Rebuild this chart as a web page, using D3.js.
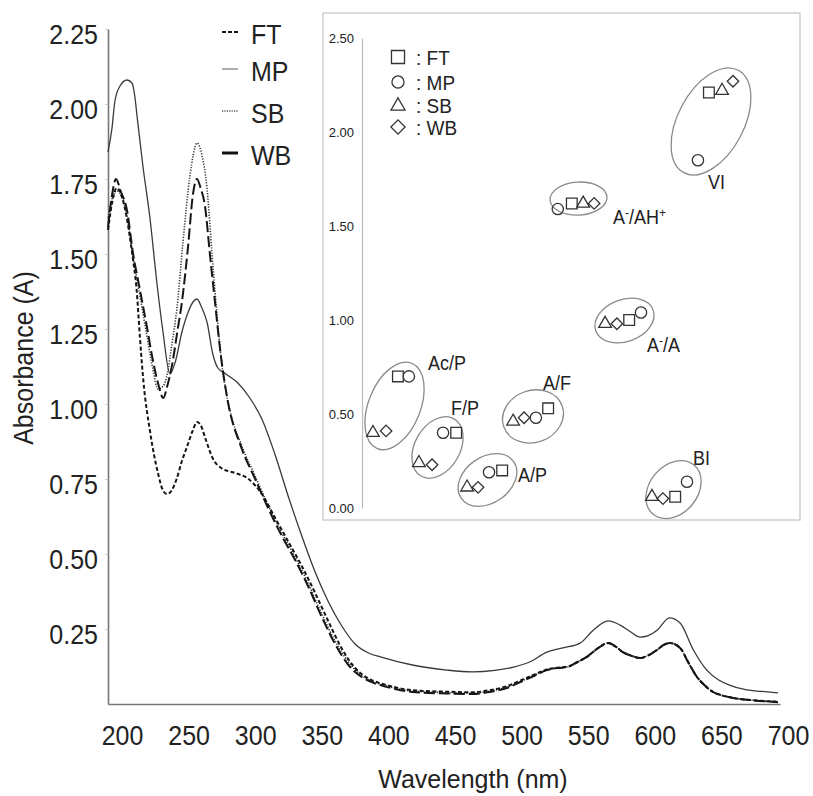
<!DOCTYPE html>
<html><head><meta charset="utf-8">
<script src="https://cdn.jsdelivr.net/npm/d3@7"></script>
<style>
body{margin:0;background:#fff}
svg{display:block}
text{font-family:"Liberation Sans",Arial,Helvetica,sans-serif;fill:#222}
</style>
</head><body>
<svg id="c" width="813" height="796"></svg>
<script>
// ---------- main spectrum data (wavelength nm, absorbance A) ----------
const seriesNames = ["FT", "MP", "SB", "WB"];

const ftData = [[189.5,1.58],[193,1.68],[196,1.72],[200,1.69],[204,1.61],[208,1.49],[211,1.38],[213.5,1.22],[216,1.08],[221,0.91],[227,0.77],[231,0.71],[234,0.70],[237,0.71],[241,0.75],[245,0.81],[249,0.86],[253,0.91],[256.3,0.94],[259,0.93],[263,0.88],[268,0.82],[275,0.785],[285,0.77],[295,0.75],[305,0.70],[315,0.62],[325,0.54],[335,0.46],[345,0.37],[355,0.275],[365,0.185],[375,0.12],[385,0.085],[394,0.069],[405,0.056],[418,0.046],[444,0.041],[463,0.039],[476,0.046],[490,0.061],[499,0.078],[510,0.099],[519,0.115],[527,0.121],[534,0.124],[542,0.14],[549,0.157],[557,0.185],[565,0.203],[571,0.19],[576,0.173],[583,0.16],[589,0.153],[595,0.162],[601.6,0.18],[607,0.198],[611.4,0.203],[619,0.187],[625,0.14],[631.7,0.09],[638,0.06],[643.7,0.04],[651,0.028],[659,0.02],[675,0.012],[692.5,0.008]];

const mpData = [[189.5,1.84],[192.5,1.92],[194.7,2.01],[198.5,2.06],[203.8,2.08],[207.5,2.07],[209.5,2.03],[211.3,1.96],[215.8,1.79],[221,1.62],[226.3,1.40],[230.8,1.24],[236,1.10],[240,1.14],[245,1.24],[250,1.31],[253.3,1.34],[256.3,1.35],[260,1.32],[264,1.27],[268,1.17],[272,1.12],[278,1.10],[287,1.07],[296,1.02],[305,0.95],[315,0.83],[325,0.69],[335,0.56],[345,0.44],[355,0.34],[365,0.26],[375,0.20],[385,0.17],[394,0.157],[418,0.13],[444,0.113],[463,0.107],[480,0.112],[494,0.123],[506,0.14],[519,0.173],[531,0.187],[544,0.203],[554,0.247],[565,0.277],[574,0.263],[582,0.24],[589,0.223],[595,0.228],[602,0.247],[611,0.287],[619,0.27],[629,0.18],[639,0.113],[648,0.08],[656,0.063],[669,0.047],[680,0.042],[692.5,0.037]];

const sbData = [[189.5,1.62],[193,1.69],[196,1.71],[200,1.69],[204,1.62],[208,1.50],[213.5,1.36],[219,1.22],[223,1.12],[227,1.05],[231,1.06],[234,1.10],[237.5,1.20],[241.3,1.32],[245.8,1.54],[251,1.76],[253.5,1.83],[256.3,1.87],[260,1.83],[263.8,1.72],[267.6,1.50],[271.3,1.30],[275,1.13],[280,1.00],[290,0.86],[300,0.76],[310,0.66],[320,0.57],[330,0.49],[340,0.40],[350,0.30],[360,0.21],[370,0.14],[380,0.095],[388,0.075],[394,0.066],[405,0.053],[418,0.043],[444,0.038],[463,0.036],[476,0.043],[490,0.058],[499,0.075],[510,0.097],[519,0.114],[527,0.12],[534,0.123],[542,0.14],[549,0.157],[557,0.185],[565,0.203],[571,0.19],[576,0.173],[583,0.16],[589,0.153],[595,0.162],[601.6,0.18],[607,0.198],[611.4,0.203],[619,0.187],[625,0.14],[631.7,0.09],[638,0.06],[643.7,0.04],[651,0.028],[659,0.02],[675,0.012],[692.5,0.007]];

const wbData = [[189.5,1.59],[192,1.68],[195.5,1.75],[199,1.71],[204,1.64],[208,1.51],[213.5,1.38],[219,1.25],[223,1.15],[227,1.07],[231,1.02],[234,1.06],[238,1.14],[241.5,1.24],[245,1.34],[249.5,1.52],[253.3,1.70],[256.3,1.75],[259,1.72],[262.3,1.66],[266,1.50],[269.8,1.34],[274,1.17],[279,1.02],[290,0.85],[300,0.75],[310,0.65],[320,0.56],[330,0.48],[340,0.39],[350,0.29],[360,0.20],[370,0.13],[380,0.09],[388,0.072],[394,0.063],[405,0.05],[418,0.04],[444,0.035],[463,0.033],[476,0.04],[490,0.055],[499,0.073],[510,0.095],[519,0.113],[527,0.12],[534,0.123],[542,0.14],[549,0.157],[557,0.185],[565,0.203],[571,0.19],[576,0.173],[583,0.16],[589,0.153],[595,0.162],[601.6,0.18],[607,0.198],[611.4,0.203],[619,0.187],[625,0.14],[631.7,0.09],[638,0.06],[643.7,0.04],[651,0.028],[659,0.02],[675,0.012],[692.5,0.006]];

const xTicks = [200,250,300,350,400,450,500,550,600,650,700];
const yTicks = [0.25,0.50,0.75,1.00,1.25,1.50,1.75,2.00,2.25];

// ---------- inset data ----------
const insetYTicks = [0.00,0.50,1.00,1.50,2.00,2.50];
const clusterNames = ["Ac/P","F/P","A/P","A/F","A-/A","BI","VI","A-/AH+"];
// [score, value] per cluster, in clusterNames order
const ftPts = [[8.2,0.70],[21.5,0.40],[32.0,0.20],[42.5,0.53],[61.0,1.00],[71.5,0.06],[79.2,2.21],[47.9,1.62]];
const mpPts = [[10.7,0.70],[18.5,0.40],[29.0,0.19],[39.7,0.48],[63.7,1.04],[74.2,0.14],[76.7,1.85],[44.7,1.59]];
const sbPts = [[2.5,0.40],[13.0,0.24],[24.0,0.11],[34.5,0.46],[55.5,0.98],[66.2,0.06],[82.2,2.22],[50.5,1.62]];
const wbPts = [[5.5,0.41],[16.0,0.23],[26.5,0.11],[37.0,0.48],[58.2,0.98],[68.7,0.05],[84.7,2.27],[53.0,1.62]];
const clusterCenters = [[7.42,0.543],[17.24,0.322],[28.65,0.149],[39.04,0.487],[59.93,0.997],[71.12,0.098],[79.68,2.056],[49.43,1.646]];
const clusterLabelPos = [[15.07,0.771],[20.32,0.532],[35.62,0.176],[41.32,0.665],[65.07,0.867],[75.57,0.266],[79.0,1.734],[57.31,1.548]];

// ---------- styles / layout ----------
const svg = d3.select("#c");
const STRETCH = 1.1; // glyphs in the reference are slightly taller than wide
const x = d3.scaleLinear().domain([189.5, 694]).range([108, 780]);
const y = d3.scaleLinear().domain([0, 2.25]).range([704, 29]);

const lineStyles = {
  FT: {stroke:"#151515", width:2.0, dash:"4,2.4"},
  MP: {stroke:"#3a3a3a", width:1.3, dash:null},
  SB: {stroke:"#333", width:1.6, dash:"1.2,1.5"},
  WB: {stroke:"#151515", width:2.0, dash:"11,4"}
};
const legendStyles = {
  FT: {stroke:"#151515", width:2.2, dash:"4,2"},
  MP: {stroke:"#999", width:1.6, dash:null},
  SB: {stroke:"#555", width:1.6, dash:"1.2,1.2"},
  WB: {stroke:"#111", width:3, dash:null}
};
const dataBy = {FT:ftData, MP:mpData, SB:sbData, WB:wbData};

function bigText(sel, tx, ty, str, anchor, extra, stretch){
  return sel.append("text")
    .attr("transform", `translate(${tx},${ty}) ${extra||""} scale(1,${stretch||STRETCH})`)
    .attr("dy","0.35em").attr("text-anchor",anchor||"start")
    .style("font-size","25px").text(str);
}

// axes
const gx = svg.append("g").attr("transform","translate(0,704)")
  .call(d3.axisBottom(x).tickValues(xTicks).tickSize(0).tickSizeOuter(0).tickFormat(d3.format("d")));
gx.select(".domain").attr("stroke","#777").attr("stroke-width",1.6);
gx.selectAll("text").attr("y",0).attr("dy","0.35em")
  .attr("transform",`translate(0,31) scale(1,${STRETCH})`)
  .style("font-size","25px").attr("fill","#222");

const gy = svg.append("g").attr("transform","translate(108,0)")
  .call(d3.axisLeft(y).tickValues(yTicks).tickSize(3).tickSizeOuter(0).tickFormat(d3.format(".2f")));
gy.select(".domain").attr("stroke","#777").attr("stroke-width",1.6);
gy.selectAll(".tick line").attr("stroke","#ccc");
gy.selectAll("text").attr("x",0).attr("y",0).attr("dy","0.35em")
  .attr("transform",`translate(-10,5) scale(1,${STRETCH})`)
  .style("font-size","25px").attr("fill","#222");

bigText(svg, 473, 779, "Wavelength (nm)", "middle", "", 1.04);
bigText(svg, 23, 358, "Absorbance (A)", "middle", "rotate(-90)");

// curves
const line = d3.line().x(d=>x(d[0])).y(d=>y(d[1])).curve(d3.curveMonotoneX);
["MP","SB","WB","FT"].forEach(k=>{
  const s = lineStyles[k];
  svg.append("path").datum(dataBy[k]).attr("d",line).attr("fill","none")
    .attr("stroke",s.stroke).attr("stroke-width",s.width)
    .attr("stroke-dasharray",s.dash).attr("stroke-linejoin","round");
});

// main legend
const legRowY = [32, 69, 111, 153];
seriesNames.forEach((k,i)=>{
  const s = legendStyles[k];
  svg.append("line").attr("x1",222).attr("x2",238).attr("y1",legRowY[i]).attr("y2",legRowY[i])
    .attr("stroke",s.stroke).attr("stroke-width",s.width).attr("stroke-dasharray",s.dash);
  bigText(svg, 251, legRowY[i]+2, k, "start");
});

// ---------- inset ----------
svg.append("rect").attr("x",323).attr("y",13).attr("width",477).attr("height",507)
  .attr("fill","#fff").attr("stroke","#cfcfcf").attr("stroke-width",1.5);
const ix = d3.scaleLinear().domain([0,100]).range([362,800]);
const iy = d3.scaleLinear().domain([0,2.5]).range([508,38]);
const giy = svg.append("g").attr("transform","translate(362,0)")
  .call(d3.axisLeft(iy).tickValues(insetYTicks).tickSize(0).tickSizeOuter(0).tickFormat(d3.format(".2f")));
giy.select(".domain").attr("stroke","#bbb").attr("stroke-width",1.2);
giy.selectAll("text").attr("x",-8).attr("dy","0.35em").style("font-size","13px").attr("fill","#333");

// ellipses (layout config: radii px, rotation deg)
const ellipseShape = [[26,46,22],[22.6,33,30],[32,23,-35],[31,26,-20],[30.5,21,-20],[24,32,40],[33,58,28],[28.5,16.5,-3]];
clusterCenters.forEach((c,i)=>{
  const [rx,ry,rot] = ellipseShape[i];
  svg.append("ellipse").attr("transform",`translate(${ix(c[0])},${iy(c[1])}) rotate(${rot})`)
    .attr("rx",rx).attr("ry",ry).attr("fill","none").attr("stroke","#8a8a8a").attr("stroke-width",1.3);
});

// markers
const markerSym = {
  FT: d3.symbol().type(d3.symbolSquare).size(115),
  MP: d3.symbol().type(d3.symbolCircle).size(100),
  SB: d3.symbol().type(d3.symbolTriangle).size(70),
  WB: d3.symbol().type(d3.symbolSquare).size(66)
};
const markerRot = {FT:0, MP:0, SB:0, WB:45};
const ptsBy = {FT:ftPts, MP:mpPts, SB:sbPts, WB:wbPts};
seriesNames.forEach(k=>{
  svg.append("g").selectAll("path").data(ptsBy[k]).join("path")
    .attr("d",markerSym[k]())
    .attr("transform",d=>`translate(${ix(d[0])},${iy(d[1])}) rotate(${markerRot[k]})`)
    .attr("fill","none").attr("stroke","#333").attr("stroke-width",1.3);
});

// cluster labels
clusterNames.forEach((n,i)=>{
  const p = clusterLabelPos[i];
  const t = svg.append("text")
    .attr("transform",`translate(${ix(p[0])},${iy(p[1])}) scale(1,${STRETCH})`)
    .attr("dy","0.35em").style("font-size","18px");
  if (n.startsWith("A-")) {
    const parts = n === "A-/A" ? [["A",0],["-",1],["/A",0]] : [["A",0],["-",1],["/AH",0],["+",1]];
    parts.forEach(([s,sup])=>{
      t.append("tspan").text(s).style("font-size", sup? "12px":"18px")
        .attr("baseline-shift", sup? "super":null);
    });
  } else t.text(n);
});

// inset legend
const iLegY = [57, 82, 105, 127];
const iLegSym = {
  FT: d3.symbol().type(d3.symbolSquare).size(170),
  MP: d3.symbol().type(d3.symbolCircle).size(115),
  SB: d3.symbol().type(d3.symbolTriangle).size(85),
  WB: d3.symbol().type(d3.symbolSquare).size(100)
};
seriesNames.forEach((k,i)=>{
  svg.append("path").attr("d",iLegSym[k]())
    .attr("transform",`translate(398,${iLegY[i] + (k==="SB"?1:0)}) rotate(${markerRot[k]})`)
    .attr("fill","none").attr("stroke","#333").attr("stroke-width",1.3);
  svg.append("text")
    .attr("transform",`translate(416,${iLegY[i]+1}) scale(1,${STRETCH})`)
    .attr("dy","0.35em").style("font-size","19px").text(": " + k);
});
</script>
</body></html>
